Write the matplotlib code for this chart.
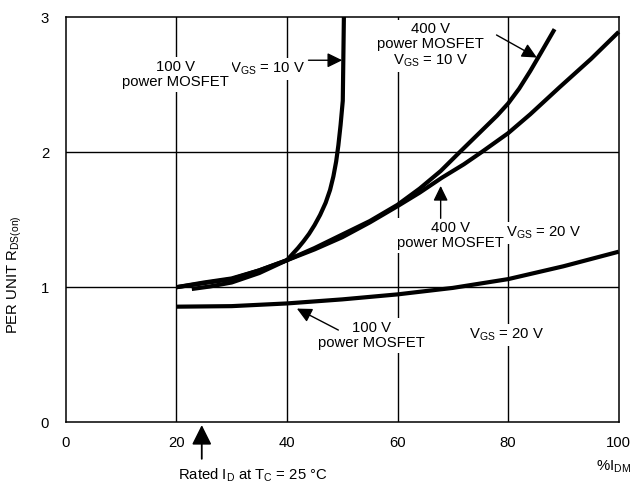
import matplotlib
matplotlib.use("Agg")
import matplotlib.pyplot as plt

plt.rcParams['font.family'] = ['Liberation Sans', 'DejaVu Sans']
plt.rcParams['mathtext.fontset'] = 'custom'
plt.rcParams['mathtext.rm'] = 'Liberation Sans'
plt.rcParams['mathtext.it'] = 'Liberation Sans:italic'
plt.rcParams['mathtext.bf'] = 'Liberation Sans:bold'

# ---- data ----
x_ticks = [0, 20, 40, 60, 80, 100]
y_ticks = [0, 1, 2, 3]

# 100 V power MOSFET, VGS = 10 V
x_100v_10 = [20, 25, 30, 35, 40, 41, 42, 43, 44, 45, 46, 47, 47.8, 48.4, 48.9, 49.3, 49.7, 50.1, 50.3]
y_100v_10 = [1.0, 1.03, 1.06, 1.125, 1.2, 1.245, 1.29, 1.34, 1.395, 1.46, 1.535, 1.625, 1.72, 1.82, 1.93, 2.05, 2.2, 2.38, 3.0]

# 400 V power MOSFET, VGS = 10 V
x_400v_10 = [22.8, 26, 30, 35, 40, 45, 50, 55, 60, 64, 67.8, 71, 75, 78, 80, 82, 84, 86, 88.4]
y_400v_10 = [0.987, 1.005, 1.035, 1.105, 1.2, 1.29, 1.39, 1.49, 1.61, 1.73, 1.86, 1.99, 2.15, 2.27, 2.36, 2.47, 2.6, 2.74, 2.91]

# 400 V power MOSFET, VGS = 20 V
x_400v_20 = [20, 25, 30, 35, 40, 45, 50, 55, 60, 64, 68, 72, 75.2, 80, 84, 89.3, 95, 100]
y_400v_20 = [1.0, 1.035, 1.065, 1.125, 1.2, 1.28, 1.37, 1.48, 1.6, 1.7, 1.81, 1.91, 2.0, 2.14, 2.28, 2.48, 2.69, 2.89]

# 100 V power MOSFET, VGS = 20 V
x_100v_20 = [20, 30, 40, 50, 60, 70, 80, 90, 100]
y_100v_20 = [0.856, 0.86, 0.88, 0.91, 0.947, 0.995, 1.06, 1.155, 1.263]

fig = plt.figure(figsize=(6.32, 4.86), dpi=100)
ax = fig.add_axes([0.104, 0.131, 0.875, 0.834])

fs = 10.7

ax.set_xlim(0, 100)
ax.set_ylim(0, 3)
ax.set_xticks(x_ticks)
ax.set_yticks(y_ticks)
ax.tick_params(length=0, labelsize=fs, colors='black')
ax.tick_params(axis='y', pad=12)
ax.tick_params(axis='x', pad=10)
for s in ax.spines.values():
    s.set_linewidth(1.1)

# grid
for gx in [20, 40, 60, 80]:
    ax.axvline(gx, color='black', lw=1.0, zorder=0.5)
for gy in [1, 2]:
    ax.axhline(gy, color='black', lw=1.0, zorder=0.5)

lw = 3.0
for xs, ys in [(x_100v_10, y_100v_10), (x_400v_10, y_400v_10),
               (x_400v_20, y_400v_20), (x_100v_20, y_100v_20)]:
    ax.plot(xs, ys, color='black', lw=lw, solid_capstyle='butt',
            solid_joinstyle='round', zorder=2, clip_on=False)

bb = dict(boxstyle='square,pad=0.2', facecolor='white', edgecolor='none')

ax.text(19.9, 2.575, '100 V\npower MOSFET', ha='center', va='center',
        fontsize=fs, bbox=bb, zorder=3.2, linespacing=1.1)
ax.text(36.4, 2.615, r'V$_{\mathrm{GS}}$ = 10 V', ha='center', va='center',
        fontsize=fs, bbox=bb, zorder=3)
ax.text(66.0, 2.79, '400 V\npower MOSFET\n' + r'V$_{\mathrm{GS}}$ = 10 V',
        ha='center', va='center', fontsize=fs, bbox=bb, zorder=3, linespacing=1.1)
ax.text(69.6, 1.385, '400 V\npower MOSFET', ha='center', va='center',
        fontsize=fs, bbox=bb, zorder=3.2, linespacing=1.1)
ax.text(79.6, 1.40, r'V$_{\mathrm{GS}}$ = 20 V', ha='left', va='center',
        fontsize=fs, bbox=bb, zorder=3)
ax.text(55.3, 0.64, '100 V\npower MOSFET', ha='center', va='center',
        fontsize=fs, bbox=bb, zorder=3, linespacing=1.1)
ax.text(79.7, 0.647, r'V$_{\mathrm{GS}}$ = 20 V', ha='center', va='center',
        fontsize=fs, bbox=bb, zorder=3)

small = dict(arrowstyle='-|>,head_length=0.45,head_width=0.22', color='black',
             lw=1.0, mutation_scale=20, shrinkA=0, shrinkB=0)
ax.annotate('', xy=(50.0, 2.68), xytext=(43.9, 2.68), arrowprops=small, zorder=4)
ax.annotate('', xy=(85.2, 2.70), xytext=(77.9, 2.867), arrowprops=small, zorder=4)
ax.annotate('', xy=(67.8, 1.75), xytext=(67.8, 1.51), arrowprops=small, zorder=4)
ax.annotate('', xy=(41.8, 0.842), xytext=(49.3, 0.683), arrowprops=small, zorder=4)

big = dict(arrowstyle='-|>,head_length=0.6,head_width=0.3', color='black',
           lw=1.3, mutation_scale=20, shrinkA=0, shrinkB=0)
ax.annotate('', xy=(24.6, -0.02), xytext=(24.6, -0.27), arrowprops=big,
            annotation_clip=False)

fig.text(178 / 632, 1 - 475 / 486, r'Rated I$_{\mathrm{D}}$ at T$_{\mathrm{C}}$ = 25 °C',
         ha='left', va='center', fontsize=fs)
fig.text(631 / 632, 1 - 467 / 486, r'%I$_{\mathrm{DM}}$', ha='right', va='center',
         fontsize=fs)
fig.text(15 / 632, 1 - 275 / 486, r'PER UNIT R$_{\mathrm{DS(on)}}$', rotation=90,
         ha='center', va='center', fontsize=fs)

fig.savefig('out.png', dpi=100)
